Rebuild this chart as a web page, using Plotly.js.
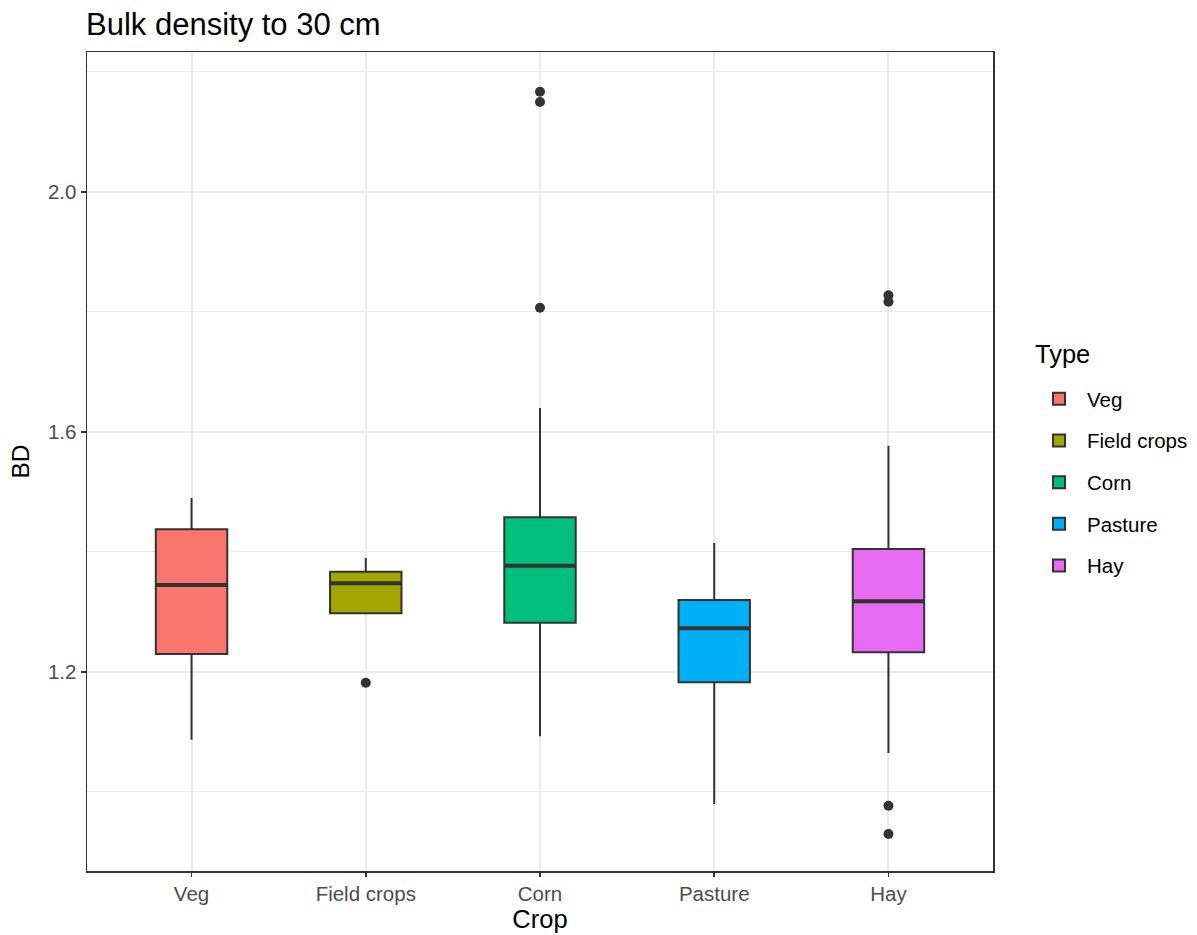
<!DOCTYPE html>
<html>
<head>
<meta charset="utf-8">
<script src="https://cdn.plot.ly/plotly-3.0.1.min.js"></script>
<style>html,body{margin:0;padding:0;background:#fff;}#chart{width:1197px;height:935px;}</style>
</head>
<body>
<div id="chart"></div>
<script>
const crops = ["Veg", "Field crops", "Corn", "Pasture", "Hay"];
const colors = ["#F8766D", "#A3A500", "#00BF7D", "#00B0F6", "#E76BF3"];
const lowerWhisker = [1.087, 1.298, 1.093, 0.980, 1.065];
const q1Vals = [1.230, 1.298, 1.282, 1.183, 1.233];
const medianVals = [1.345, 1.348, 1.377, 1.273, 1.318];
const q3Vals = [1.438, 1.367, 1.458, 1.320, 1.405];
const upperWhisker = [1.490, 1.390, 1.640, 1.415, 1.577];
const outliers = [
  [],
  [1.182],
  [2.167, 2.150, 1.807],
  [],
  [1.828, 1.817, 0.977, 0.930]
];

const W = 1197, H = 935;
const L = 87, R = 0, T = 52, B = 64;
const areaW = W - L - R, areaH = H - T - B;
const plotRight = 993;

const traces = [];
crops.forEach((c, i) => {
  traces.push({
    type: "box",
    name: c,
    x: [c],
    q1: [q1Vals[i]],
    median: [medianVals[i]],
    q3: [q3Vals[i]],
    lowerfence: [lowerWhisker[i]],
    upperfence: [upperWhisker[i]],
    fillcolor: colors[i],
    line: {color: "#333333", width: 2},
    width: 0.41,
    whiskerwidth: 0,
    boxpoints: false,
    legendgroup: c,
    hoverinfo: "skip"
  });
  // thicker median line drawn as flat box
  traces.push({
    type: "box",
    name: c,
    x: [c],
    q1: [medianVals[i]],
    median: [medianVals[i]],
    q3: [medianVals[i]],
    lowerfence: [medianVals[i]],
    upperfence: [medianVals[i]],
    fillcolor: "rgba(0,0,0,0)",
    line: {color: "#333333", width: 4},
    width: 0.41,
    whiskerwidth: 0,
    boxpoints: false,
    showlegend: false,
    legendgroup: c,
    hoverinfo: "skip"
  });
  if (outliers[i].length) {
    traces.push({
      type: "scatter",
      mode: "markers",
      x: outliers[i].map(() => c),
      y: outliers[i],
      marker: {color: "#333333", size: 10},
      showlegend: false,
      legendgroup: c,
      hoverinfo: "skip"
    });
  }
});

const layout = {
  width: W,
  height: H,
  paper_bgcolor: "#ffffff",
  plot_bgcolor: "#ffffff",
  font: {family: "Liberation Sans, Arial, sans-serif", color: "#000000"},
  margin: {l: L, r: R, t: T, b: B},
  boxmode: "overlay",
  showlegend: true,
  title: {
    text: "Bulk density to 30 cm",
    x: 86 / W, xanchor: "left",
    y: 1 - 24 / H, yanchor: "middle",
    font: {size: 31, color: "#000000"}
  },
  xaxis: {
    domain: [0, (plotRight - L) / areaW],
    type: "category",
    categoryorder: "array",
    categoryarray: crops,
    range: [-0.6, 4.6],
    showgrid: true,
    gridcolor: "#EBEBEB",
    gridwidth: 2,
    zeroline: false,
    showline: true,
    linecolor: "#333333",
    linewidth: 1.5,
    mirror: true,
    ticks: "outside",
    ticklen: 4,
    tickwidth: 1.5,
    tickcolor: "#333333",
    tickfont: {size: 20.5, color: "#4D4D4D"},
    title: {text: "Crop", font: {size: 25.5, color: "#000000"}, standoff: 4}
  },
  yaxis: {
    range: [0.8683, 2.2333],
    tickvals: [1.2, 1.6, 2.0],
    ticktext: ["1.2", "1.6", "2.0"],
    showgrid: true,
    gridcolor: "#EBEBEB",
    gridwidth: 2,
    minor: {tickvals: [1.0, 1.4, 1.8, 2.2], showgrid: true, gridcolor: "#EBEBEB", gridwidth: 1, ticks: ""},
    zeroline: false,
    showline: true,
    linecolor: "#333333",
    linewidth: 1.5,
    mirror: true,
    ticks: "outside",
    ticklen: 5,
    tickwidth: 1.5,
    tickcolor: "#333333",
    tickfont: {size: 20.5, color: "#4D4D4D"},
    title: {text: "BD", font: {size: 24.5, color: "#000000"}, standoff: 11}
  },
  legend: {
    x: (1031 - L) / areaW, xref: "paper", xanchor: "left",
    y: (H - B - 379) / areaH, yanchor: "top",
    font: {size: 20.5, color: "#000000"},
    tracegroupgap: 12,
    itemwidth: 46,
    borderwidth: 0,
    bgcolor: "rgba(0,0,0,0)"
  },
  annotations: [{
    text: "Type",
    xref: "paper", yref: "paper",
    x: (1033 - L) / areaW, xanchor: "left",
    y: (H - B - 354) / areaH, yanchor: "middle",
    showarrow: false,
    font: {size: 25.5, color: "#000000"}
  }]
};

Plotly.newPlot("chart", traces, layout, {displayModeBar: false, staticPlot: true});
</script>
</body>
</html>
